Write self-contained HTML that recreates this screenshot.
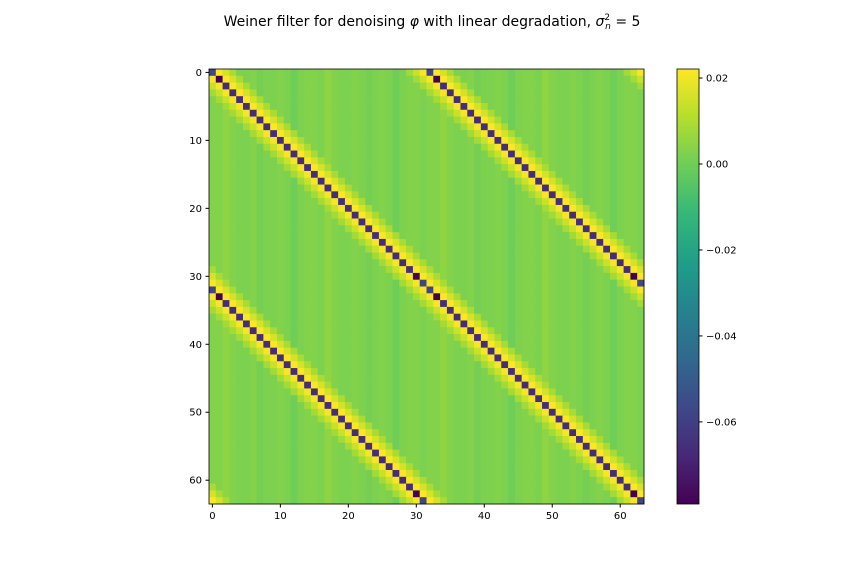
<!DOCTYPE html>
<html><head><meta charset="utf-8"><style>
body{margin:0;background:#fff;font-family:"Liberation Sans","DejaVu Sans",sans-serif;}
svg text{font-family:"DejaVu Sans","Liberation Sans",sans-serif;}
</style></head><body>
<svg id="c" width="864" height="576" xmlns="http://www.w3.org/2000/svg">
<text x="432" y="26" text-anchor="middle" font-size="14">Weiner filter for denoising <tspan font-style="italic">φ</tspan> with linear degradation, <tspan font-style="italic">σ</tspan><tspan font-size="9" dy="-6">2</tspan><tspan font-size="9" dx="-5" dy="9" font-style="italic">n</tspan><tspan dy="-3"> = 5</tspan></text>
<g id="heat"></g>
<g id="axes"></g>
<defs><linearGradient id="vg" x1="0" y1="1" x2="0" y2="0"></linearGradient></defs>
<rect x="677" y="69" width="22" height="435" fill="url(#vg)" stroke="#000" stroke-width="0.8"/>
<g id="cbt"></g>
</svg>
<script>
const N = 64;
const bandOffsets = [-3,-2,-1,1,2,3];
const bandValues = [0.008,0.014,0.021,0.022,0.016,0.009];
const diagDefault = -0.066;
const diagSpecialRows = [0,1,30,31,32,33,62,63];
const diagSpecialVals = [-0.058,-0.079,-0.079,-0.058,-0.058,-0.079,-0.079,-0.058];
const colBg = [0.003,0.003,0.005,0.003,0.002,0.002,0.003,0.001,0.002,0.002,0.003,0.002,0.000,0.002,0.003,0.003,0.002,0.005,0.003,0.002,0.002,0.003,0.002,0.001,0.002,0.003,0.002,0.000,0.002,0.003,0.003,0.002,
0.003,0.003,0.005,0.003,0.002,0.002,0.003,0.001,0.002,0.002,0.003,0.002,0.000,0.002,0.003,0.003,0.002,0.005,0.003,0.002,0.002,0.003,0.002,0.001,0.002,0.003,0.002,0.000,0.002,0.003,0.003,0.002];
const xTicks = [0,10,20,30,40,50,60];
const cbTicks = [0.02,0.00,-0.02,-0.04,-0.06];
const cbLabels = ["0.02","0.00","−0.02","−0.04","−0.06"];
const vmin = -0.0791, vmax = 0.0221;
const X0=209, Y0=69, W=435, H=435, cw=W/N;
const vir=[[68,1,84],[72,40,120],[62,73,137],[49,104,142],[38,130,142],[31,158,137],[53,183,121],[109,205,89],[180,222,44],[253,231,37]];
function cmap(v){let t=Math.max(0,Math.min(1,(v-vmin)/(vmax-vmin)))*9;let i=Math.min(8,Math.floor(t)),f=t-i;
const a=vir[i],b=vir[i+1];return `rgb(${a.map((x,k)=>Math.round(x+(b[k]-x)*f)).join(',')})`;}
function val(i,j){
  for(const base of [i,(i+32)%N]){
    let d=((j-base)%N+N)%N; if(d>32)d-=N;
    if(d===0){const k=diagSpecialRows.indexOf(i);return k>=0?diagSpecialVals[k]:diagDefault;}
    const bi=bandOffsets.indexOf(d); if(bi>=0) return bandValues[bi];
  }
  return colBg[j];
}
const ns="http://www.w3.org/2000/svg", heat=document.getElementById('heat');
for(let i=0;i<N;i++)for(let j=0;j<N;j++){
  const r=document.createElementNS(ns,'rect');
  r.setAttribute('x',(X0+j*cw).toFixed(2));r.setAttribute('y',(Y0+i*cw).toFixed(2));
  r.setAttribute('width',(cw+0.4).toFixed(2));r.setAttribute('height',(cw+0.4).toFixed(2));
  r.setAttribute('fill',cmap(val(i,j)));
  
  
  heat.appendChild(r);
}
const ax=document.getElementById('axes');
let h=`<rect x="${X0}" y="${Y0}" width="${W}" height="${H}" fill="none" stroke="#000" stroke-width="0.8"/>`;
xTicks.forEach(t=>{const p=X0+(t+0.5)*cw;
 h+=`<line x1="${p}" y1="${Y0+H}" x2="${p}" y2="${Y0+H+3.5}" stroke="#000"/><text x="${p}" y="${Y0+H+15}" font-size="10" text-anchor="middle">${t}</text>`;
 const q=Y0+(t+0.5)*cw;
 h+=`<line x1="${X0-3.5}" y1="${q}" x2="${X0}" y2="${q}" stroke="#000"/><text x="${X0-7}" y="${q+3.5}" font-size="10" text-anchor="end">${t}</text>`;});
ax.innerHTML=h;
const g=document.getElementById('vg');
vir.forEach((c,k)=>{const s=document.createElementNS(ns,'stop');s.setAttribute('offset',k/9);s.setAttribute('stop-color',`rgb(${c.join(',')})`);g.appendChild(s);});
let c='';
cbTicks.forEach((t,k)=>{const y=504-(t-vmin)/(vmax-vmin)*435;
 c+=`<line x1="699" y1="${y}" x2="702.5" y2="${y}" stroke="#000"/><text x="706" y="${y+3.5}" font-size="10">${cbLabels[k]}</text>`;});
document.getElementById('cbt').innerHTML=c;
</script>
</body></html>
